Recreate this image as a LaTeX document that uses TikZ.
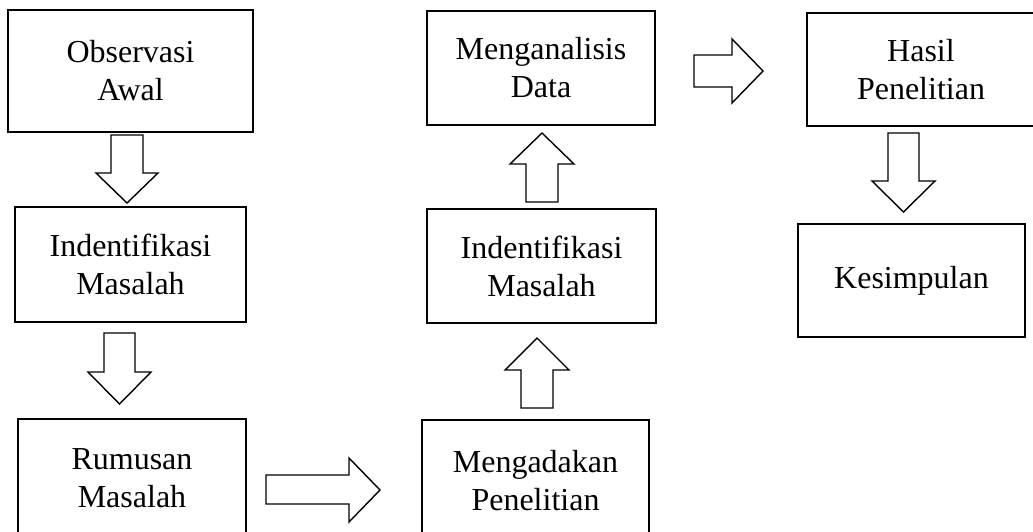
\documentclass[tikz,border=0pt]{standalone}
\usepackage{fontspec}
\setmainfont{Liberation Serif}
\begin{document}
\begin{tikzpicture}[x=1pt,y=-1pt,
  box/.style={draw=black, line width=2pt, inner sep=0pt, align=center,
    font=\fontsize{32}{38}\selectfont},
  blockarrow/.style={draw=black, line width=1.4pt, line join=miter, fill=white}]
\clip (0,0) rectangle (1033,531);
\fill[white] (0,0) rectangle (1033,531);
% boxes
\node[box, minimum width=245pt, minimum height=122pt] (obs) at (130.5,71) {Observasi\\Awal};
\node[box, minimum width=231pt, minimum height=115pt] (idl) at (130.5,264.5) {Indentifikasi\\Masalah};
\node[box, minimum width=228pt, minimum height=118pt] (rum) at (132,478) {Rumusan\\Masalah};
\node[box, minimum width=227pt, minimum height=122pt] (ada) at (535.5,481) {Mengadakan\\Penelitian};
\node[box, minimum width=229pt, minimum height=114pt] (idm) at (541.5,266) {Indentifikasi\\Masalah};
\node[box, minimum width=228pt, minimum height=114pt] (ana) at (541,68) {Menganalisis\\Data};
\node[box, minimum width=228pt, minimum height=113pt] (has) at (921,69.5) {Hasil\\Penelitian};
\node[box, minimum width=227pt, minimum height=113pt] (kes) at (911.5,280.5) {Kesimpulan};
% block arrows
% obs -> idl (down)
\draw[blockarrow] (111,135) -- (143,135) -- (143,173) -- (158,173) -- (127,203) -- (96,173) -- (111,173) -- cycle;
% idl -> rum (down)
\draw[blockarrow] (104,333) -- (135,333) -- (135,372) -- (151,372) -- (119.5,404) -- (88,372) -- (104,372) -- cycle;
% rum -> ada (right)
\draw[blockarrow] (266,475) -- (349,475) -- (349,458) -- (380,490) -- (349,522) -- (349,504) -- (266,504) -- cycle;
% ada -> idm (up)
\draw[blockarrow] (521,408) -- (521,370) -- (505,370) -- (537,338) -- (569,370) -- (553,370) -- (553,408) -- cycle;
% idm -> ana (up)
\draw[blockarrow] (526,202) -- (526,164) -- (510,164) -- (542,133) -- (574,164) -- (558,164) -- (558,202) -- cycle;
% ana -> has (right)
\draw[blockarrow] (694,55) -- (732,55) -- (732,39) -- (763,71) -- (732,103) -- (732,87) -- (694,87) -- cycle;
% has -> kes (down)
\draw[blockarrow] (888,133) -- (919,133) -- (919,181) -- (935,181) -- (903.5,212) -- (872,181) -- (888,181) -- cycle;
\end{tikzpicture}
\end{document}
